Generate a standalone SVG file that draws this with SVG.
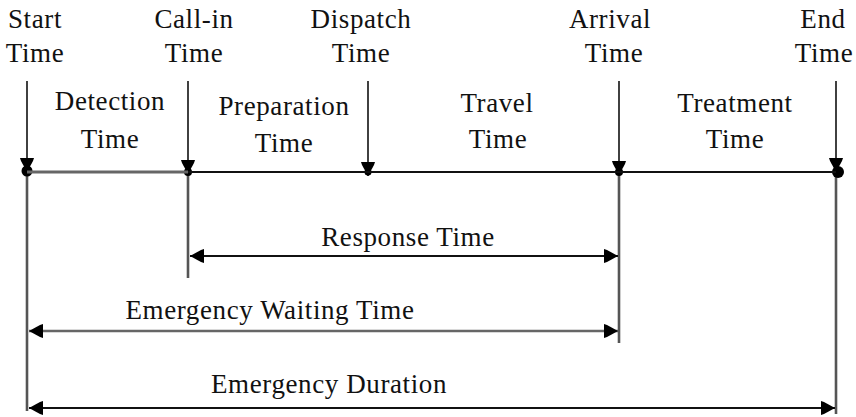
<svg xmlns="http://www.w3.org/2000/svg" width="856" height="417" viewBox="0 0 856 417">
  <style>
    text { font-family: "Liberation Serif", "Times New Roman", serif; font-size: 27px; letter-spacing: 0.6px; fill: #111; text-anchor: middle; }
    .tick { stroke: #111; stroke-width: 1.6; fill: none; }
    .guide { stroke: #555; stroke-width: 2.6; fill: none; }
    .axis { stroke: #111; stroke-width: 2; fill: none; }
    .axis-grey { stroke: #666; stroke-width: 3; fill: none; }
    .span { stroke: #111; stroke-width: 2; fill: none; }
    .span-grey { stroke: #666; stroke-width: 2.6; fill: none; }
    .dot { fill: #000; }
  </style>
  <defs>
    <marker id="head" viewBox="-16 -8 18 16" refX="0" refY="0" markerWidth="18" markerHeight="16" markerUnits="userSpaceOnUse" orient="auto">
      <path d="M0,0 L-11,-6 L-14,-7 L-14,7 L-11,6 Z" fill="#000"/>
    </marker>
    <marker id="head-start" viewBox="-16 -8 18 16" refX="0" refY="0" markerWidth="18" markerHeight="16" markerUnits="userSpaceOnUse" orient="auto-start-reverse">
      <path d="M0,0 L-11,-6 L-14,-7 L-14,7 L-11,6 Z" fill="#000"/>
    </marker>
  </defs>

  <!-- time points: label, downward tick and dot on the timeline -->
  <g id="start-time">
    <text x="35" y="28">Start</text>
    <text x="35" y="62">Time</text>
    <line class="tick" x1="27" y1="81" x2="27" y2="172" marker-end="url(#head)"/>
    <line class="guide" x1="27" y1="172" x2="27" y2="411"/>
    <circle class="dot" cx="27" cy="171" r="5.5"/>
  </g>
  <g id="call-in-time">
    <text x="194" y="28">Call-in</text>
    <text x="194" y="62">Time</text>
    <line class="tick" x1="188" y1="81" x2="188" y2="174" marker-end="url(#head)"/>
    <line class="guide" x1="188" y1="172" x2="188" y2="278"/>
    <circle class="dot" cx="188" cy="172" r="4"/>
  </g>
  <g id="dispatch-time">
    <text x="361" y="28">Dispatch</text>
    <text x="361" y="62">Time</text>
    <line class="tick" x1="368" y1="81" x2="368" y2="176" marker-end="url(#head)"/>
    <circle class="dot" cx="368" cy="172" r="3.5"/>
  </g>
  <g id="arrival-time">
    <text x="610" y="28">Arrival</text>
    <text x="614" y="62">Time</text>
    <line class="tick" x1="619" y1="81" x2="619" y2="175" marker-end="url(#head)"/>
    <line class="guide" x1="619" y1="172" x2="619" y2="343"/>
    <circle class="dot" cx="619" cy="172" r="4"/>
  </g>
  <g id="end-time">
    <text x="823" y="28">End</text>
    <text x="824" y="62">Time</text>
    <line class="tick" x1="836" y1="81" x2="836" y2="172" marker-end="url(#head)"/>
    <line class="guide" x1="836" y1="172" x2="836" y2="414"/>
    <circle class="dot" cx="838" cy="172" r="6"/>
  </g>

  <!-- interval names between the time points -->
  <g id="detection-time">
    <text x="110" y="110">Detection</text>
    <text x="110" y="148">Time</text>
  </g>
  <g id="preparation-time">
    <text x="284" y="115">Preparation</text>
    <text x="284" y="152">Time</text>
  </g>
  <g id="travel-time">
    <text x="497" y="112">Travel</text>
    <text x="498" y="148">Time</text>
  </g>
  <g id="treatment-time">
    <text x="735" y="112">Treatment</text>
    <text x="735" y="148">Time</text>
  </g>

  <!-- span labels -->
  <g id="response-time">
    <text x="408" y="246">Response Time</text>
  </g>
  <g id="emergency-waiting-time">
    <text x="270" y="319">Emergency Waiting Time</text>
  </g>
  <g id="emergency-duration">
    <text x="329" y="393">Emergency Duration</text>
  </g>

  <!-- connectors: timeline and double-headed span arrows -->
  <g id="connectors">
    <line class="axis-grey" x1="27" y1="172" x2="188" y2="172"/>
    <line class="axis" x1="188" y1="172" x2="836" y2="172"/>
    <line class="span" x1="190" y1="256" x2="618" y2="256" marker-start="url(#head-start)" marker-end="url(#head)"/>
    <line class="span-grey" x1="29" y1="331" x2="618" y2="331" marker-start="url(#head-start)" marker-end="url(#head)"/>
    <line class="span" x1="29" y1="408" x2="835" y2="408" marker-start="url(#head-start)" marker-end="url(#head)"/>
  </g>
</svg>
